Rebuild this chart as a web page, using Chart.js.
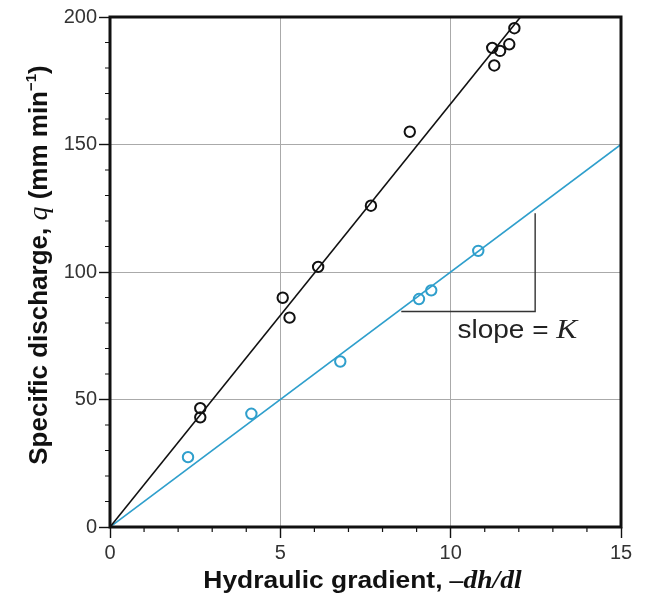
<!DOCTYPE html>
<html>
<head>
<meta charset="utf-8">
<script src="https://cdn.jsdelivr.net/npm/chart.js@4.4.1/dist/chart.umd.min.js"></script>
<style>
  html, body { margin: 0; padding: 0; background: #fff; }
  #wrap { width: 646px; height: 597px; position: relative; }
</style>
</head>
<body>
<div id="wrap"><canvas id="myChart"></canvas></div>
<script>
// measured points, black set (steeper) and blue set
const blackX = [2.65, 2.65, 5.07, 5.27, 6.11, 7.66, 8.80, 11.22, 11.28, 11.45, 11.72, 11.87];
const blackY = [46.6, 43.0, 89.9, 82.1, 102, 126, 155, 187.9, 181, 186.7, 189.3, 195.6];
const blueX = [2.29, 4.15, 6.76, 9.07, 9.43, 10.81];
const blueY = [27.4, 44.4, 64.9, 89.4, 92.8, 108.3];

// fitted lines through the origin
const blackFitX = [0, 12.05];
const blackFitY = [0, 200];
const blueFitX = [0, 15];
const blueFitY = [0, 150];

// the slope bracket under the blue line
const bracketX = [8.55, 12.48, 12.48];
const bracketY = [84.5, 84.5, 123];
const slopeLabelAt = [10.2, 74];

const xTicks = [0, 5, 10, 15];
const yTicks = [0, 50, 100, 150, 200];

const pts = (xs, ys) => xs.map((x, i) => ({ x: x, y: ys[i] }));

const SANS = '"Liberation Sans", Arial, sans-serif';
const SERIF = '"Liberation Serif", "Times New Roman", serif';
const BLUE = '#2f9fcc';

// draws a run of differently styled pieces, centred on x (or left-aligned)
function drawRich(ctx, parts, x, y, sx, left) {
    let total = 0;
    parts.forEach(p => { ctx.font = p.font; total += ctx.measureText(p.text).width; });
    ctx.save();
    ctx.translate(x, y);
    ctx.scale(sx || 1, 1);
    let cx = left ? 0 : -total / 2;
    parts.forEach(p => {
        ctx.font = p.font;
        ctx.fillText(p.text, cx, p.dy || 0);
        cx += ctx.measureText(p.text).width;
    });
    ctx.restore();
}

const frameAndText = {
    id: 'frameAndText',
    afterDatasetsDraw(chart) {
        const ctx = chart.ctx;
        const a = chart.chartArea;
        const xs = chart.scales.x, ys = chart.scales.y;
        ctx.save();
        ctx.strokeStyle = '#111';
        // minor ticks
        ctx.lineWidth = 1.2;
        ctx.beginPath();
        for (let v = 0; v <= 15; v++) {
            if (v % 5 === 0) continue;
            const px = xs.getPixelForValue(v);
            ctx.moveTo(px, a.bottom);
            ctx.lineTo(px, a.bottom + 5);
        }
        for (let v = 0; v <= 200; v += 10) {
            if (v % 50 === 0) continue;
            const py = ys.getPixelForValue(v);
            ctx.moveTo(a.left - 5, py);
            ctx.lineTo(a.left, py);
        }
        ctx.stroke();
        // frame
        ctx.lineWidth = 3;
        ctx.strokeRect(a.left, a.top, a.right - a.left, a.bottom - a.top);

        ctx.fillStyle = '#111';
        ctx.textBaseline = 'alphabetic';
        ctx.textAlign = 'left';
        // x title
        drawRich(ctx, [
            { text: 'Hydraulic gradient, ', font: 'bold 24px ' + SANS },
            { text: '\u2013dh/dl', font: 'italic bold 25px ' + SERIF }
        ], (a.left + a.right) / 2 - 3, 588, 1.1);
        // y title
        ctx.save();
        ctx.translate(47, (a.top + a.bottom) / 2 - 7);
        ctx.rotate(-Math.PI / 2);
        drawRich(ctx, [
            { text: 'Specific discharge, ', font: 'bold 26px ' + SANS },
            { text: 'q', font: 'italic 28px ' + SERIF },
            { text: ' (mm min', font: 'bold 26px ' + SANS },
            { text: '\u22121', font: 'bold 15px ' + SANS, dy: -11 },
            { text: ')', font: 'bold 26px ' + SANS }
        ], 0, 0, 1);
        ctx.restore();
        // slope label
        const lx = xs.getPixelForValue(slopeLabelAt[0]);
        const ly = ys.getPixelForValue(slopeLabelAt[1]);
        ctx.fillStyle = '#222';
        drawRich(ctx, [
            { text: 'slope = ', font: '25px ' + SANS },
            { text: 'K', font: 'italic 28px ' + SERIF }
        ], lx, ly, 1.12, true);
        ctx.restore();
    }
};

const gridColor = ctx => (ctx.tick && (ctx.tick.value === 0 || ctx.tick.value === 15 && ctx.scale.axis === 'x' || ctx.tick.value === 200)) ? 'rgba(0,0,0,0)' : '#aaaaaa';

const config = {
    type: 'scatter',
    data: {
        datasets: [
            {
                type: 'line', data: pts(blackFitX, blackFitY), borderColor: '#111', borderWidth: 1.6,
                pointRadius: 0, fill: false
            },
            {
                type: 'line', data: pts(blueFitX, blueFitY), borderColor: BLUE, borderWidth: 1.6,
                pointRadius: 0, fill: false
            },
            {
                type: 'line', data: pts(bracketX, bracketY), borderColor: '#333', borderWidth: 1.4,
                pointRadius: 0, fill: false
            },
            {
                data: pts(blackX, blackY), borderColor: '#111', backgroundColor: 'rgba(0,0,0,0)',
                pointRadius: 5.2, borderWidth: 2
            },
            {
                data: pts(blueX, blueY), borderColor: BLUE, backgroundColor: 'rgba(0,0,0,0)',
                pointRadius: 5.2, borderWidth: 2
            }
        ]
    },
    options: {
        responsive: true,
        maintainAspectRatio: false,
        animation: false,
        layout: { padding: { left: 0, right: 25, top: 17, bottom: 0 } },
        plugins: { legend: { display: false }, tooltip: { enabled: false } },
        scales: {
            x: {
                type: 'linear', min: 0, max: 15,
                afterBuildTicks: s => { s.ticks = xTicks.map(v => ({ value: v })); },
                afterFit: s => { s.height = 70; },
                ticks: { color: '#333', font: { family: SANS, size: 20 }, padding: 3 },
                grid: { color: gridColor, lineWidth: 1, tickLength: 11, tickColor: '#111', tickWidth: 1.4 },
                border: { display: false }
            },
            y: {
                type: 'linear', min: 0, max: 200,
                afterBuildTicks: s => { s.ticks = yTicks.map(v => ({ value: v })); },
                afterFit: s => { s.width = 110; },
                ticks: { color: '#333', font: { family: SANS, size: 20 }, padding: 2 },
                grid: { color: gridColor, lineWidth: 1, tickLength: 11, tickColor: '#111', tickWidth: 1.4 },
                border: { display: false }
            }
        }
    },
    plugins: [frameAndText]
};

const myChart = new Chart(document.getElementById('myChart'), config);
</script>
</body>
</html>
